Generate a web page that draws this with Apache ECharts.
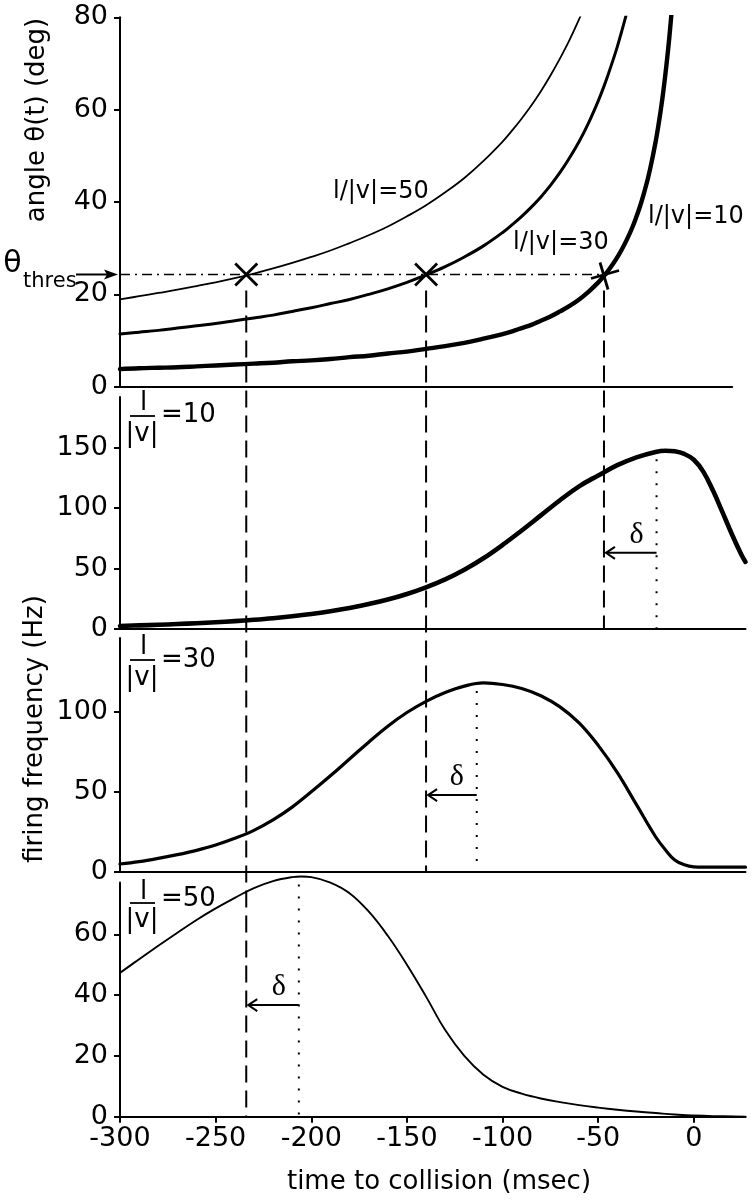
<!DOCTYPE html>
<html><head><meta charset="utf-8">
<script src="https://cdn.jsdelivr.net/npm/echarts@6/dist/echarts.min.js"></script>
<style>html,body{margin:0;padding:0;background:#fff}#c{width:752px;height:1200px}</style>
</head><body><div id="c"></div>
<script>
// ---- data ----
const xTicks = [-300, -250, -200, -150, -100, -50, 0];
const yTicksAngle = [0, 20, 40, 60, 80];
const yTicks10 = [0, 50, 100, 150];
const yTicks30 = [0, 50, 100];
const yTicks50 = [0, 20, 40, 60];

const angleT50 = [-300, -290, -280, -270, -260, -250, -240, -230, -220, -210, -200, -190, -180, -170, -160, -150, -140, -130, -120, -110, -100, -95, -90, -85, -80, -75, -70, -65, -60, -57];
const angle50  = [18.9, 19.6, 20.3, 21.0, 21.8, 22.6, 23.5, 24.5, 25.6, 26.8, 28.1, 29.5, 31.1, 32.8, 34.7, 36.9, 39.3, 42.1, 45.2, 48.9, 53.1, 55.5, 58.1, 60.9, 64.0, 67.4, 71.1, 75.1, 79.6, 82.5];
const angleT30 = [-300, -290, -280, -270, -260, -250, -240, -230, -220, -210, -200, -190, -180, -170, -160, -150, -140, -130, -120, -110, -100, -95, -90, -85, -80, -75, -70, -65, -60, -55, -50, -47, -45, -42, -40, -38, -36, -34, -32];
const angle30  = [11.4, 11.8, 12.2, 12.7, 13.2, 13.7, 14.3, 14.9, 15.5, 16.3, 17.1, 18.0, 18.9, 20.0, 21.2, 22.6, 24.2, 26.0, 28.1, 30.5, 33.4, 35.1, 36.9, 38.9, 41.1, 43.6, 46.4, 49.6, 53.1, 57.2, 61.9, 65.1, 67.4, 71.1, 73.7, 76.6, 79.6, 82.8, 86.3];
const angleT10 = [-300, -290, -280, -270, -260, -250, -240, -230, -220, -210, -200, -190, -180, -170, -160, -150, -140, -130, -120, -110, -100, -95, -90, -85, -80, -75, -70, -65, -60, -55, -50, -47, -44, -41, -38, -35, -32, -30, -28, -26, -24, -22, -20, -19, -18, -17, -16, -15, -14, -13, -12, -11.5, -11];
const angle10  = [3.8, 4.0, 4.1, 4.2, 4.4, 4.6, 4.8, 5.0, 5.2, 5.5, 5.7, 6.0, 6.4, 6.7, 7.2, 7.6, 8.2, 8.8, 9.5, 10.4, 11.4, 12.0, 12.7, 13.4, 14.3, 15.2, 16.3, 17.5, 18.9, 20.6, 22.6, 24.0, 25.6, 27.4, 29.5, 31.9, 34.7, 36.9, 39.3, 42.1, 45.2, 48.9, 53.1, 55.5, 58.1, 60.9, 64.0, 67.4, 71.1, 75.1, 79.6, 82.0, 84.6];

const rateT10 = [-300, -290, -280, -270, -260, -250, -240, -230, -220, -210, -200, -190, -180, -170, -160, -150, -140, -130, -120, -110, -100, -90, -80, -70, -60, -50, -40, -30, -20, -15, -10, -5, 0, 5, 10, 15, 20, 25, 27];
const rate10  = [2.5, 3, 3.5, 4.1, 4.8, 5.6, 6.5, 7.6, 8.9, 10.5, 12.4, 14.7, 17.4, 20.6, 24.4, 29, 34.5, 41, 49, 58.5, 69.5, 81.5, 94, 106.5, 118, 127, 135.5, 142, 146.5, 147.5, 147, 144.8, 140, 130, 114.5, 96.5, 78, 61, 55.5];
const rateT30 = [-300, -290, -280, -270, -260, -250, -240, -230, -220, -210, -200, -190, -180, -170, -160, -150, -140, -130, -120, -110, -100, -90, -80, -70, -60, -50, -40, -30, -20, -15, -10, -5, 0, 5, 15, 27];
const rate30  = [5, 6.5, 8.5, 10.8, 13.5, 16.8, 21, 26, 32.5, 40.5, 50, 60, 70.5, 81, 91, 99.5, 106.5, 112, 116, 118, 117, 114.5, 110, 103, 93, 79, 62, 42, 22, 14, 7.5, 4.5, 3.2, 3, 3, 3];
const rateT50 = [-300, -290, -280, -270, -260, -250, -240, -230, -220, -210, -205, -200, -190, -180, -170, -160, -150, -140, -130, -120, -110, -100, -90, -80, -70, -60, -50, -40, -30, -20, -10, 0, 10, 27];
const rate50  = [47.3, 51.8, 56.2, 60.5, 64.7, 68.5, 72, 75.2, 77.5, 78.8, 79, 78.8, 77, 73.5, 67.5, 59.5, 50, 39.5, 28.5, 20, 13.8, 9.8, 7.6, 6.0, 4.8, 3.8, 3.0, 2.3, 1.7, 1.2, 0.7, 0.4, 0.2, 0];

const thetaThres = 24.3;
const crossTimes = [-234, -140, -47];       // l/|v| = 50, 30, 10
const peakTimes  = [-19.5, -113.5, -206.5]; // panels l/|v| = 10, 30, 50
const peakRates  = [147, 118, 79];
const deltaArrowRate = [63, 48, 36.7];
const curveLabels = ['l/|v|=50', 'l/|v|=30', 'l/|v|=10'];
const panelValues = ['=10', '=30', '=50'];

// ---- chart ----
const FONT = "'DejaVu Sans', 'Liberation Sans', Arial, sans-serif";
const pairs = (t, v) => t.map((x, i) => [x, v[i]]);
const chart = echarts.init(document.getElementById('c'), null, {renderer: 'canvas'});

const grids = [
  {left: 120, top: 17.3, width: 612.2, height: 369.4},
  {left: 120, top: 396.9, width: 625.5, height: 232.1},
  {left: 120, top: 638, width: 625.5, height: 234},
  {left: 120, top: 882.6, width: 625.5, height: 234.1}
];
const yMax = [80, 192, 146, 77];
const yInt = [20, 50, 50, 20];
const yTicks = [yTicksAngle, yTicks10, yTicks30, yTicks50];

const xAxes = grids.map((g, i) => ({
  type: 'value', gridIndex: i, min: -300, max: i === 0 ? 20 : 27, interval: 50,
  axisLine: {onZero: false, lineStyle: {color: '#000', width: 2}},
  axisTick: {show: i === 3, length: 6, lineStyle: {color: '#000', width: 2}, customValues: xTicks},
  axisLabel: {show: i === 3, customValues: xTicks, color: '#000', fontSize: 27, fontFamily: FONT, margin: 9},
  splitLine: {show: false}
}));
const yAxes = grids.map((g, i) => ({
  type: 'value', gridIndex: i, min: 0, max: yMax[i], interval: yInt[i],
  axisLine: {show: true, onZero: false, lineStyle: {color: '#000', width: 2}},
  axisTick: {show: true, length: 6, lineStyle: {color: '#000', width: 2}, customValues: yTicks[i]},
  axisLabel: {customValues: yTicks[i], color: '#000', fontSize: 27, fontFamily: FONT, margin: 12},
  splitLine: {show: false}
}));

function lineSeries(data, gi, w, clip) {
  return {type: 'line', xAxisIndex: gi, yAxisIndex: gi, data: data, showSymbol: false,
    smooth: 0.4, clip: clip !== false, silent: true,
    lineStyle: {color: '#000', width: w, cap: 'round', join: 'round'}};
}

chart.setOption({
  animation: false,
  backgroundColor: '#fff',
  grid: grids,
  xAxis: xAxes,
  yAxis: yAxes,
  series: [
    lineSeries(pairs(angleT50, angle50), 0, 1.8),
    lineSeries(pairs(angleT30, angle30), 0, 3),
    lineSeries(pairs(angleT10, angle10), 0, 4.4),
    lineSeries(pairs(rateT10, rate10), 1, 4.6),
    lineSeries(pairs(rateT30, rate30), 2, 3.2),
    lineSeries(pairs(rateT50, rate50), 3, 1.9, false)
  ]
});

// ---- annotations positioned through the chart's own scales ----
const P = (g, x, y) => chart.convertToPixel({gridIndex: g}, [x, y]);
const G = [];
const txt = (x, y, text, size, align, family, rot) => ({
  type: 'text', x: x, y: y, rotation: rot || 0,
  style: {text: text, fontSize: size, fontFamily: family || FONT, fill: '#000',
    align: align || 'left', textAlign: align || 'left', verticalAlign: 'middle', textVerticalAlign: 'middle'}
});
const ln = (x1, y1, x2, y2, w, dash) => ({
  type: 'line', shape: {x1, y1, x2, y2},
  style: {stroke: '#000', lineWidth: w, lineDash: dash || null}
});

// threshold dash-dot line
const tA = P(0, -300, thetaThres), tB = P(0, crossTimes[2], thetaThres);
G.push(ln(tA[0], tA[1], tB[0] + 4, tB[1], 1.6, [10, 5, 2, 5]));
// theta_thres label & arrow
G.push(txt(12.5, tA[1] - 10, 'θ', 30, 'center'));
G.push(txt(23, tA[1] + 7, 'thres', 21, 'left'));
G.push(ln(76, tA[1], 108, tA[1], 2));
G.push({type: 'polygon', shape: {points: [[118, tA[1]], [104, tA[1] - 5], [107, tA[1]], [104, tA[1] + 5]]}, style: {fill: '#000'}});

// crosses
crossTimes.forEach((t, k) => {
  const c = P(0, t, thetaThres);
  if (k < 2) {
    G.push(ln(c[0] - 11, c[1] - 11, c[0] + 11, c[1] + 11, 2.8));
    G.push(ln(c[0] - 11, c[1] + 11, c[0] + 11, c[1] - 11, 2.8));
  } else {
    G.push(ln(c[0] - 13, c[1] + 4, c[0] + 15, c[1] - 4, 2.8));
    G.push(ln(c[0] - 4, c[1] - 12, c[0] + 4, c[1] + 15, 2.8));
  }
});

// dashed verticals from threshold crossings down to the matching panel
const bottomGrid = [3, 2, 1];
crossTimes.forEach((t, k) => {
  const a = P(0, t, thetaThres);
  const b = P(bottomGrid[k], t, 0);
  G.push(ln(a[0], a[1] + 16, b[0], b[1], 2, [17, 8]));
});

// dotted peak lines and delta arrows
const panelCross = [crossTimes[2], crossTimes[1], crossTimes[0]];
peakTimes.forEach((t, k) => {
  const g = k + 1;
  const a = P(g, t, peakRates[k]);
  const b = P(g, t, 0);
  G.push(ln(a[0], a[1] + 8, b[0], b[1], 2, [2, 10]));
  const s = P(g, t, deltaArrowRate[k]);
  const e = P(g, panelCross[k], deltaArrowRate[k]);
  G.push(ln(s[0], s[1], e[0] + 2, e[1], 2));
  G.push({type: 'polyline', shape: {points: [[e[0] + 11, e[1] - 6], [e[0] + 2, e[1]], [e[0] + 11, e[1] + 6]]}, style: {stroke: '#000', lineWidth: 2, fill: null}});
  G.push(txt(s[0] - 20, s[1] - 18, 'δ', 30, 'center', "'Liberation Serif', 'DejaVu Serif', serif"));
});

// curve labels in the angle panel
G.push(txt(333, 192, curveLabels[0], 24, 'left'));
G.push(txt(513, 243, curveLabels[1], 24, 'left'));
G.push(txt(648, 217, curveLabels[2], 24, 'left'));

// fraction labels in the firing panels
const fracY = [[403, 416, 434, 415], [647, 660, 678, 660], [892, 903, 920, 899]];
fracY.forEach((f, k) => {
  G.push(txt(143.5, f[0], 'l', 26, 'center'));
  G.push(ln(130, f[1], 155, f[1], 1.8));
  G.push(txt(142, f[2], '|v|', 26, 'center'));
  G.push(txt(161, f[3], panelValues[k], 26, 'left'));
});

// axis names
G.push(txt(37, 120, 'angle θ(t) (deg)', 26, 'center', FONT, Math.PI / 2));
G.push(txt(35, 729, 'firing frequency (Hz)', 26, 'center', FONT, Math.PI / 2));
G.push(txt(439, 1182, 'time to collision (msec)', 26, 'center'));

chart.setOption({graphic: {elements: G}});
</script>
</body></html>
